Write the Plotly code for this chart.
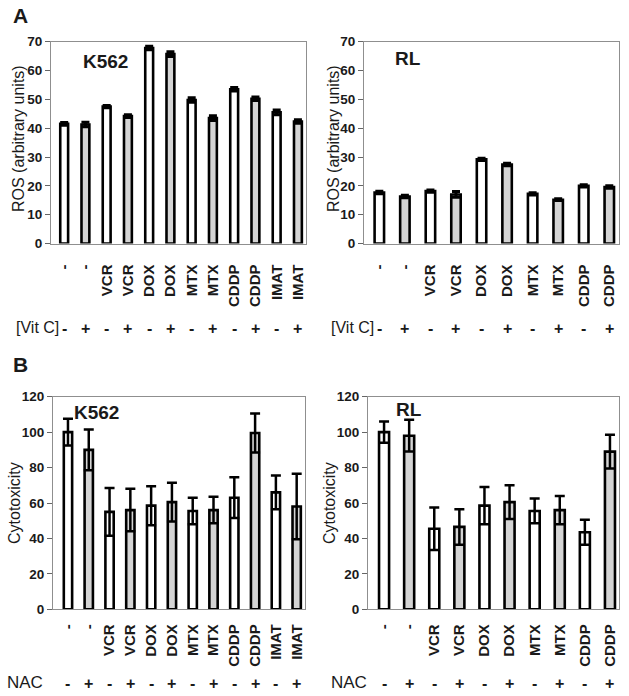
import plotly.graph_objects as go

# ---------------- data ----------------
k562_treat = ["-", "-", "VCR", "VCR", "DOX", "DOX", "MTX", "MTX", "CDDP", "CDDP", "IMAT", "IMAT"]
rl_treat = ["-", "-", "VCR", "VCR", "DOX", "DOX", "MTX", "MTX", "CDDP", "CDDP"]
k562_signs = ["-", "+", "-", "+", "-", "+", "-", "+", "-", "+", "-", "+"]
rl_signs = ["-", "+", "-", "+", "-", "+", "-", "+", "-", "+"]

ros_k562 = [41.5, 41.3, 47.5, 44.2, 67.8, 65.7, 49.8, 43.5, 53.5, 50.2, 45.5, 42.3]
ros_k562_err = [0.5, 0.8, 0.4, 0.5, 0.6, 0.8, 0.8, 0.8, 0.6, 0.6, 0.8, 0.6]
ros_rl = [17.7, 16.3, 18.2, 17.0, 29.2, 27.4, 17.2, 15.2, 20.0, 19.6]
ros_rl_err = [0.4, 0.4, 0.4, 1.0, 0.4, 0.4, 0.4, 0.3, 0.4, 0.4]

cyto_k562 = [100, 90, 55, 56, 58.5, 60.5, 55.5, 56, 63, 99.5, 66, 58]
cyto_k562_err = [7.5, 11.5, 13.5, 12, 11, 11, 7.5, 7.5, 11.5, 11, 9.5, 18.5]
cyto_rl = [100, 98, 45.5, 46.5, 58.5, 60.5, 55.5, 56, 43.5, 89]
cyto_rl_err = [6, 9, 12, 10, 10.5, 9.5, 7, 8, 7, 9.5]

ros_ticks = [0, 10, 20, 30, 40, 50, 60, 70]
cyto_ticks = [0, 20, 40, 60, 80, 100, 120]

# ---------------- style ----------------
W, H = 629, 696
FONT = "Liberation Sans, Arial, sans-serif"
TXT = "#1a1a1a"
GREY = "#d4d4d4"
FRAME = "#8f8f8f"


def px_x(p):
    return p / W


def px_y(p):
    return 1 - p / H


def fills(signs):
    return ["white" if s == "-" else GREY for s in signs]


fig = go.Figure()

panels = [
    ("", k562_treat, k562_signs, ros_k562, ros_k562_err, 0.37, 51, 306, 41.7, 243.5, [-0.62, 11.38], [0, 70], ros_ticks, 3, 4, 14, 328),
    ("2", rl_treat, rl_signs, ros_rl, ros_rl_err, 0.37, 364, 619, 41.7, 243.5, [-0.6, 9.38], [0, 70], ros_ticks, 3, 4, 14, 328),
    ("3", k562_treat, k562_signs, cyto_k562, cyto_k562_err, 0.4, 53, 305, 396.7, 609.3, [-0.72, 11.4], [0, 120], cyto_ticks, 2.5, 5, 8, 683),
    ("4", rl_treat, rl_signs, cyto_rl, cyto_rl_err, 0.4, 368, 619, 396.7, 609.3, [-0.64, 9.36], [0, 120], cyto_ticks, 2.5, 5, 8, 683),
]

layout = dict(
    width=W, height=H,
    margin=dict(l=0, r=0, t=0, b=0, autoexpand=False),
    paper_bgcolor="white", plot_bgcolor="white",
    showlegend=False,
    font=dict(family=FONT, color=TXT),
    annotations=[],
)

for suf, treat, signs, vals, errs, bw, xl, xr, yt, yb, xrng, yrng, yt_vals, eth, ew, standoff, row_y in panels:
    xs = list(range(len(treat)))
    fig.add_trace(go.Bar(
        x=xs, y=vals, width=bw,
        marker=dict(color=fills(signs), line=dict(color="black", width=2.6)),
        error_y=dict(type="data", array=errs, visible=True, color="black", thickness=eth, width=ew),
        xaxis="x" + suf, yaxis="y" + suf,
        hoverinfo="skip",
    ))
    layout["xaxis" + suf] = dict(
        domain=[px_x(xl), px_x(xr)], anchor="y" + suf, range=xrng,
        tickmode="array", tickvals=xs, ticktext=treat, tickangle=-90,
        tickfont=dict(family=FONT, size=15, color=TXT, weight="bold"),
        showline=True, linecolor=FRAME, linewidth=1, mirror=True,
        ticks="", showgrid=False, zeroline=False, ticklabelstandoff=standoff,
        automargin=False,
    )
    layout["yaxis" + suf] = dict(
        domain=[px_y(yb), px_y(yt)], anchor="x" + suf, range=yrng,
        tickmode="array", tickvals=yt_vals,
        tickfont=dict(family=FONT, size=13.5, color=TXT, weight="bold"),
        showline=True, linecolor=FRAME, linewidth=1, mirror=True,
        ticks="outside", ticklen=5, tickcolor="#666", tickwidth=1,
        showgrid=False, zeroline=False, automargin=False,
    )
    for i, s in enumerate(signs):
        layout["annotations"].append(dict(
            x=i, y=px_y(row_y), xref="x" + suf, yref="paper", text=s, showarrow=False,
            font=dict(family=FONT, size=16, color=TXT, weight="bold"),
            xanchor="center", yanchor="middle",
        ))

ann = layout["annotations"]


def txt(x, y, t, size, bold=False, anchor="left", angle=0):
    ann.append(dict(
        x=px_x(x), y=px_y(y), xref="paper", yref="paper", text=t, showarrow=False,
        font=dict(family=FONT, size=size, color=TXT, weight="bold" if bold else "normal"),
        xanchor=anchor, yanchor="middle", textangle=angle,
    ))


# row labels
txt(61, 327, "[Vit C]", 16, anchor="right")
txt(376, 327, "[Vit C]", 16, anchor="right")
txt(5, 682, "NAC", 17)
txt(329, 682, "NAC", 17)

# panel letters
txt(11, 15, "A", 21, bold=True)
txt(11, 364, "B", 21, bold=True)

# cell labels
txt(81, 62, "K562", 19, bold=True)
txt(393, 59, "RL", 19, bold=True)
txt(72, 413, "K562", 19, bold=True)
txt(394, 409, "RL", 19, bold=True)

# y-axis titles
txt(19, 139, "ROS (arbitrary units)", 16, anchor="center", angle=-90)
txt(334, 139, "ROS (arbitrary units)", 16, anchor="center", angle=-90)
txt(14, 503, "Cytotoxicity", 16, anchor="center", angle=-90)
txt(329, 503, "Cytotoxicity", 16, anchor="center", angle=-90)

fig.update_layout(**layout)
fig.write_html(
    "out.html",
    config={"displayModeBar": False},
    post_script="document.body.style.margin='0';document.body.style.padding='0';",
)
